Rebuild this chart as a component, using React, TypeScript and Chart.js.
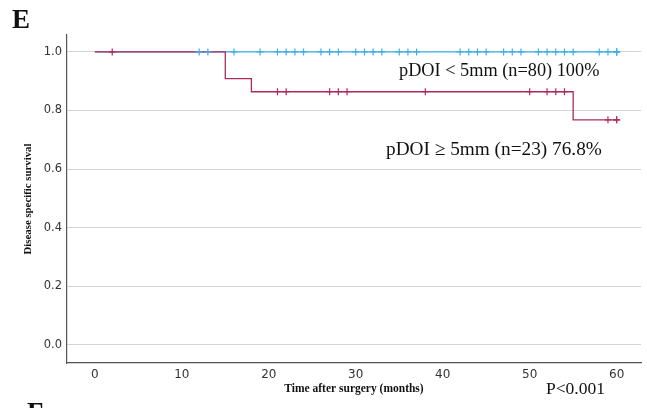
import React, { useEffect, useRef } from "react";
import { Chart, registerables } from "chart.js";
Chart.register(...registerables);

// ---- data ----
const xTickValues = [0, 10, 20, 30, 40, 50, 60];
const yTickValues = [0, 0.2, 0.4, 0.6, 0.8, 1.0];

// pDOI < 5mm (n=80): no events
const lowTimes = [0, 60];
const lowSurvival = [1.0, 1.0];
const lowCensorTimes = [12, 13, 16, 19, 21, 22, 23, 24, 26, 27, 28, 30, 31, 32, 33, 35, 36, 37, 42, 43, 44, 45, 47, 48, 49, 51, 52, 53, 54, 55, 58, 59, 60, 60, 60];

// pDOI >= 5mm (n=23)
const highTimes = [0, 15, 18, 55, 60];
const highSurvival = [1.0, 0.909, 0.864, 0.768, 0.768];
const highCensorTimes = [2, 21, 22, 27, 28, 29, 38, 50, 52, 53, 54, 59, 60, 60];

const lowLabel = "pDOI < 5mm (n=80) 100%";
const highLabel = "pDOI \u2265 5mm (n=23) 76.8%";
const pLabel = "P<0.001";
const xTitle = "Time after surgery (months)";
const yTitle = "Disease specific survival";

const BLUE = "rgb(62,176,230)";
const RED = "rgb(176,42,94)";

function survAt(times: number[], surv: number[], t: number) {
  let s = surv[0];
  for (let i = 0; i < times.length; i++) if (times[i] <= t) s = surv[i];
  return s;
}

const textPlugin = {
  id: "texts",
  afterDraw(chart: any) {
    const ctx = chart.ctx;
    const area = chart.chartArea;
    ctx.save();
    ctx.fillStyle = "#111";
    ctx.textBaseline = "alphabetic";
    ctx.textAlign = "left";
    ctx.font = "bold 27px 'Liberation Serif', serif";
    ctx.fillText("E", 12, 28);
    ctx.fillText("F", 27, 421);

    ctx.font = "18.3px 'Liberation Serif', serif";
    ctx.fillText(lowLabel, 399, 76);
    ctx.font = "19.3px 'Liberation Serif', serif";
    ctx.fillText(highLabel, 386, 155);
    ctx.font = "17.5px 'Liberation Serif', serif";
    ctx.fillText(pLabel, 546, 394);

    ctx.font = "bold 11.5px 'Liberation Serif', serif";
    ctx.textAlign = "center";
    ctx.fillText(xTitle, (area.left + area.right) / 2, 392);

    ctx.translate(31, (area.top + area.bottom) / 2);
    ctx.rotate(-Math.PI / 2);
    ctx.font = "bold 10.8px 'Liberation Serif', serif";
    ctx.fillText(yTitle, 0, 0);
    ctx.restore();
  },
};

export default function App() {
  const ref = useRef<HTMLCanvasElement | null>(null);
  useEffect(() => {
    document.body.style.margin = "0";
    const canvas = ref.current!;
    const chart = new Chart(canvas, {
      type: "line",
      data: {
        datasets: [
          {
            label: "low censor",
            data: lowCensorTimes.map((t) => ({ x: t, y: survAt(lowTimes, lowSurvival, t) })),
            showLine: false,
            pointStyle: "cross",
            pointRadius: 3.5,
            pointBorderWidth: 1.2,
            borderColor: BLUE,
            backgroundColor: BLUE,
            order: 0,
          },
          {
            label: "high censor",
            data: highCensorTimes.map((t) => ({ x: t, y: survAt(highTimes, highSurvival, t) })),
            showLine: false,
            pointStyle: "cross",
            pointRadius: 3.5,
            pointBorderWidth: 1.2,
            borderColor: RED,
            backgroundColor: RED,
            order: 1,
          },
          {
            label: "high",
            data: highTimes.map((t, i) => ({ x: t, y: highSurvival[i] })),
            stepped: true,
            borderColor: RED,
            borderWidth: 1.3,
            pointRadius: 0,
            fill: false,
            order: 2,
          },
          {
            label: "low",
            data: lowTimes.map((t, i) => ({ x: t, y: lowSurvival[i] })),
            stepped: true,
            borderColor: BLUE,
            borderWidth: 1.3,
            pointRadius: 0,
            fill: false,
            order: 3,
          },
        ],
      },
      options: {
        animation: false,
        responsive: false,
        maintainAspectRatio: false,
        layout: { padding: { top: 35, right: 6, left: 0, bottom: 0 } },
        plugins: { legend: { display: false }, tooltip: { enabled: false } },
        scales: {
          x: {
            type: "linear",
            min: -3.2,
            max: 62.8,
            afterBuildTicks: (s: any) => {
              s.ticks = xTickValues.map((v) => ({ value: v }));
            },
            afterFit: (s: any) => {
              s.height = 45;
            },
            grid: { display: false, drawTicks: false, tickLength: 0 },
            border: { display: true, color: "#555", width: 1.2 },
            ticks: {
              padding: 5,
              color: "#333",
              font: { family: "'DejaVu Sans', sans-serif", size: 12 },
              callback: (v: any) => String(v),
            },
          },
          y: {
            type: "linear",
            min: -0.063,
            max: 1.058,
            afterBuildTicks: (s: any) => {
              s.ticks = yTickValues.map((v) => ({ value: v }));
            },
            afterFit: (s: any) => {
              s.width = 67;
            },
            grid: { display: true, color: "#d4d4d4", lineWidth: 1, drawTicks: false, tickLength: 0 },
            border: { display: true, color: "#555", width: 1.2 },
            ticks: {
              padding: 5,
              color: "#333",
              font: { family: "'DejaVu Sans', sans-serif", size: 11.5 },
              callback: (v: any) => Number(v).toFixed(1),
            },
          },
        },
      },
      plugins: [textPlugin],
    } as any);
    return () => chart.destroy();
  }, []);
  return (
    <div style={{ width: 647, height: 408, background: "#fff" }}>
      <canvas ref={ref} width={647} height={408} style={{ display: "block" }} />
    </div>
  );
}
